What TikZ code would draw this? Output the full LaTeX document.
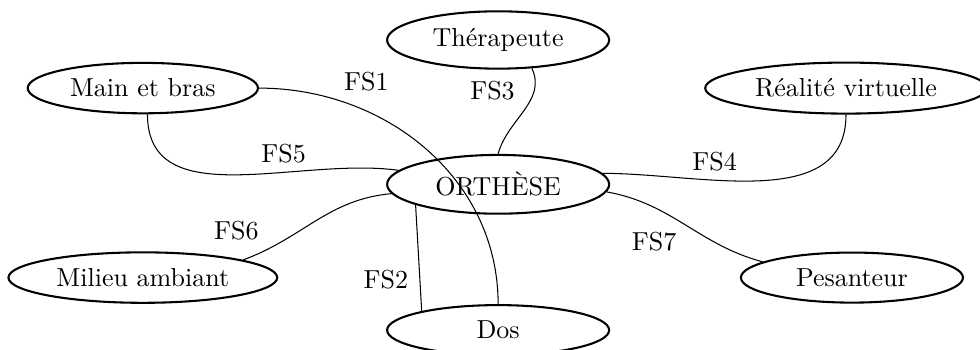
\documentclass[tikz,border=0pt]{standalone}
\usepackage{fontspec}
\usepackage{tikz}
\usetikzlibrary{shapes}
\usetikzlibrary{positioning}

\begin{document}
\begin{tikzpicture}
[
    bloc/.style = {ellipse, draw, thick, minimum width = 3cm},
    lien/.style = {draw, thin}
]
\useasboundingbox (-6.73,-2.23) rectangle (6.51,2.49);

% elements du milieu exterieur
\node[bloc] (orthese) at (0,0) {ORTHÈSE};
\node[bloc] (therapeute) at (0,1.95) {Thérapeute};
\node[bloc] (main) at (-4.80,1.30) {Main et bras};
\node[bloc] (realite) at (4.70,1.30) {Réalité virtuelle};
\node[bloc] (milieu) at (-4.80,-1.26) {Milieu ambiant};
\node[bloc] (pesanteur) at (4.78,-1.26) {Pesanteur};
\node[bloc] (dos) at (0,-1.97) {Dos};

% fonctions de service
\draw[lien] (main.east) to[out=0,in=90] node[pos=0.3,above=4pt] (fs1) {FS1} (dos.north);
\draw[lien] (orthese.194) -- node[pos=0.7,left=1pt] (fs2) {FS2} (dos.166);
\draw[lien] (orthese.north) to[out=75,in=-65] node[pos=0.75,left=4pt] (fs3) {FS3} (therapeute.-40);
\draw[lien] (orthese.6) to[out=0,in=-90] node[pos=0.35,above] (fs4) {FS4} (realite.south);
\draw[lien] (main.-80) to[out=-90,in=172] node[pos=0.65,above] (fs5) {FS5} (orthese.172);
\draw[lien] (milieu.10) to[out=20,in=185] node[pos=0.15,above left] (fs6) {FS6} (orthese.185);
\draw[lien] (orthese.-4) to[out=-10,in=165] node[pos=0.28,below=6pt] (fs7) {FS7} (pesanteur.170);

\end{tikzpicture}
\end{document}
